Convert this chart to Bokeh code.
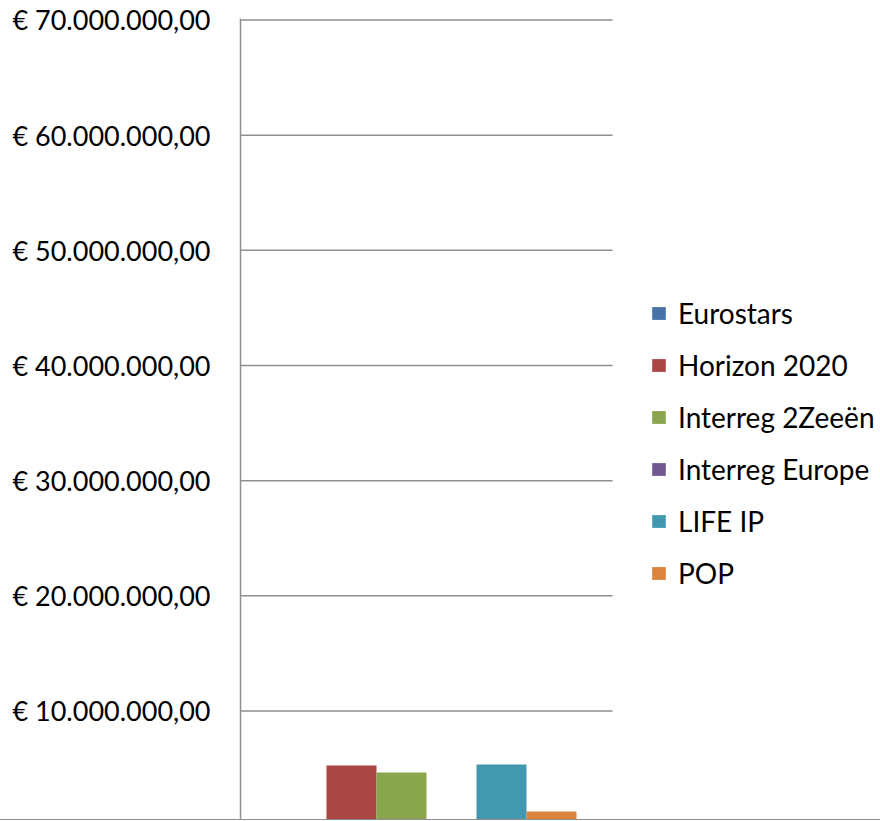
from bokeh.plotting import figure
from bokeh.models import Range1d, FixedTicker, ColumnDataSource, Label, Legend, LegendItem
from bokeh.embed import file_html
from bokeh.resources import INLINE

# ---- data ----
category = ["Totaal"]
series = ["Eurostars", "Horizon 2020", "Interreg 2Zeeën", "Interreg Europe", "LIFE IP", "POP"]
values = [300000, 5270000, 4660000, 550000, 5360000, 1280000]
colors = ["#4572A7", "#AA4643", "#89A54E", "#71588F", "#4198AF", "#DB843D"]
tick_values = [0, 10000000, 20000000, 30000000, 40000000, 50000000, 60000000, 70000000]
tick_labels = ["€ 0,00", "€ 10.000.000,00", "€ 20.000.000,00", "€ 30.000.000,00",
               "€ 40.000.000,00", "€ 50.000.000,00", "€ 60.000.000,00", "€ 70.000.000,00"]
y_start = 490000
y_end = 70130000

GRAY = "#8F8F8F"
FONT = "Lato"
FS = "27px"
LFS = "28px"

# layout: plot area is 372px wide inside a 640px-wide frame (legend sits to its right)
PLOT_W, FRAME_W = 372, 640
x_end = FRAME_W / PLOT_W        # category unit = plot area width

p = figure(width=880, height=820, x_range=Range1d(0, x_end),
           y_range=Range1d(y_start, y_end), output_backend="svg", toolbar_location=None,
           min_border_left=240, min_border_right=0, min_border_top=18, min_border_bottom=0)
p.styles = {"border-bottom": "1px solid " + GRAY}
p.outline_line_color = None
p.background_fill_color = "white"
p.border_fill_color = "white"

# horizontal gridlines across the plot area only
grid_src = ColumnDataSource(dict(y=tick_values, x0=[0] * len(tick_values), x1=[1] * len(tick_values)))
p.segment(x0="x0", x1="x1", y0="y", y1="y", source=grid_src, line_color=GRAY, line_width=1.5)

group_frac = 300 / PLOT_W
w = group_frac / len(series)
items = []
for i, (name, val, col) in enumerate(zip(series, values, colors)):
    xc = 0.5 - group_frac / 2 + w * (i + 0.5)
    src = ColumnDataSource(dict(x=[xc], val=[val]))
    r = p.vbar(x="x", top="val", width=w, bottom=0,
               source=src, fill_color=col, line_color=None)
    items.append(LegendItem(label=name, renderers=[r]))

p.xaxis.visible = False
p.xgrid.visible = False
p.ygrid.visible = False

p.yaxis.ticker = FixedTicker(ticks=tick_values)
p.yaxis.major_label_overrides = {v: t for v, t in zip(tick_values, tick_labels)}
p.yaxis.major_label_text_font = FONT
p.yaxis.major_label_text_font_size = FS
p.yaxis.major_label_text_color = "black"
p.yaxis.major_label_standoff = 30
p.yaxis.major_tick_line_color = None
p.yaxis.minor_tick_line_color = None
p.yaxis.major_tick_out = 0
p.yaxis.major_tick_in = 0
p.yaxis.axis_line_color = GRAY
p.yaxis.axis_line_width = 1.5

# zero label partly visible below the frame
p.add_layout(Label(x=-30, y=tick_values[0], x_units="screen", y_units="data", text=tick_labels[0],
                   text_align="right", text_baseline="middle", text_font=FONT,
                   text_font_size=FS, text_color="black"))

lg = Legend(items=items, location=(410, 230))
lg.border_line_color = None
lg.background_fill_alpha = 0
lg.padding = 10
lg.margin = 0
lg.spacing = 18
lg.label_height = 33
lg.glyph_height = 16
lg.glyph_width = 17
lg.label_standoff = 11
lg.label_text_font = FONT
lg.label_text_font_size = LFS
lg.label_text_color = "black"
p.add_layout(lg)

open("out.html", "w").write(file_html(p, INLINE))
